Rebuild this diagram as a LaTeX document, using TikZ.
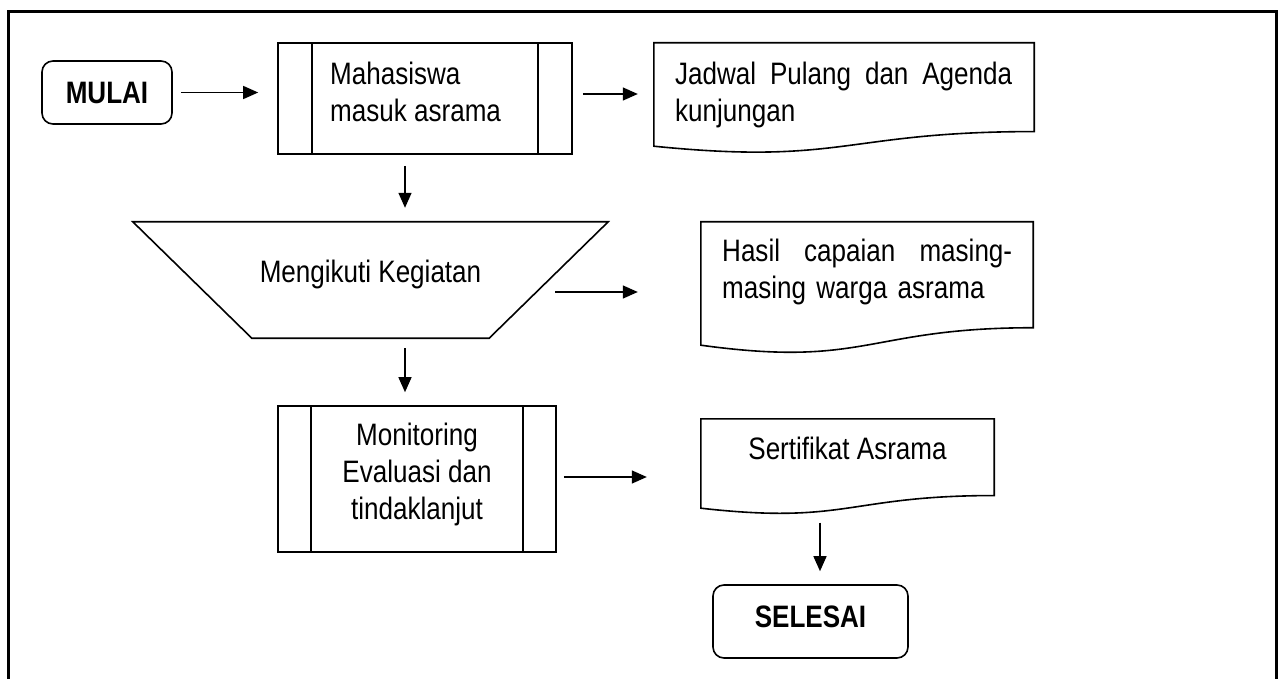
\documentclass[tikz,border=0pt]{standalone}
\usepackage{fontspec}
\setmainfont{Liberation Sans}[FakeStretch=0.84]
\usetikzlibrary{arrows.meta,calc}

\tikzset{
  shapeline/.style={draw, line width=1.6pt},
  procbox/.style={draw, line width=1.6pt, inner sep=0pt},
  ghostbox/.style={inner sep=0pt},
  termbox/.style={draw, line width=1.6pt, rounded corners=11pt, inner sep=0pt,
    font=\fontsize{31pt}{37pt}\selectfont\bfseries},
  lbl/.style={font=\fontsize{31pt}{37pt}\selectfont, inner sep=0pt},
  arr/.style={line width=1.4pt, -{Triangle[length=15pt,width=13pt]}},
  framebox/.style={line width=3pt},
}

% document symbol with a wavy bottom edge, drawn on an empty node
\newcommand\docpath[1]{%
  \draw[shapeline] (#1.north west) -- (#1.north east)
    -- ($(#1.north east)!0.802!(#1.south east)$)
    .. controls ($(#1.north)!0.802!(#1.south)$) and ($(#1.north)!1.108!(#1.south)$)
    .. ($(#1.north west)!0.934!(#1.south west)$) -- cycle;}

\begin{document}
\begin{tikzpicture}[x=1pt,y=-1pt]
\useasboundingbox (0,0) rectangle (1278,679);

% outer frame
\draw[framebox] (8,690) -- (8,12) -- (1276,12) -- (1276,690);

% start
\node[termbox, minimum width=130pt, minimum height=63pt] (mulai) at (107,92.5) {MULAI};

% predefined process: Mahasiswa masuk asrama
\node[procbox, minimum width=294pt, minimum height=111pt] (mhs) at (425,98.5) {};
\draw[shapeline] ([xshift=35pt]mhs.north west) -- ([xshift=35pt]mhs.south west);
\draw[shapeline] ([xshift=-35pt]mhs.north east) -- ([xshift=-35pt]mhs.south east);
\node[lbl, align=left, anchor=base west] (mhsT) at (330,122) {Mahasiswa\\masuk asrama};

% document: Jadwal
\node[ghostbox, minimum width=380pt, minimum height=110.3pt] (jadwal) at (844,98.15) {};
\docpath{jadwal}
\node[lbl, text width=337pt, align=left, anchor=base west] (jadwalT) at (675,85)
  {\makebox[337pt][l]{Jadwal\hfill Pulang\hfill dan\hfill Agenda}\\kunjungan};

% manual operation: Mengikuti Kegiatan
\node[ghostbox, minimum width=475pt, minimum height=116pt] (trap) at (370.5,280) {};
\draw[shapeline] (trap.north west) -- (trap.north east)
  -- ([xshift=-119pt]trap.south east) -- ([xshift=119pt]trap.south west) -- cycle;
\node[lbl, anchor=base] (trapT) at (370.5,283) {Mengikuti Kegiatan};

% document: Hasil capaian
\node[ghostbox, minimum width=332pt, minimum height=131.7pt] (hasil) at (867,287.85) {};
\docpath{hasil}
\node[lbl, text width=290pt, align=left, anchor=base west] (hasilT) at (722,262)
  {\makebox[290pt][l]{Hasil\hfill capaian\hfill masing-}\\masing warga asrama};

% predefined process: Monitoring
\node[procbox, minimum width=278pt, minimum height=146pt] (mon) at (417,479) {};
\draw[shapeline] ([xshift=34pt]mon.north west) -- ([xshift=34pt]mon.south west);
\draw[shapeline] ([xshift=-34pt]mon.north east) -- ([xshift=-34pt]mon.south east);
\node[lbl, align=center, anchor=base] (monT) at (417,519) {Monitoring\\Evaluasi dan\\tindaklanjut};

% document: Sertifikat
\node[ghostbox, minimum width=293pt, minimum height=95.3pt] (sert) at (847.5,466.65) {};
\docpath{sert}
\node[lbl, anchor=base] (sertT) at (847.5,459) {Sertifikat Asrama};

% end
\node[termbox, minimum width=195pt, minimum height=73pt, text depth=9pt] (selesai) at (810.5,621.5) {SELESAI};

% connectors
\coordinate (kegout) at (555,292);
\draw[arr, shorten <=8pt, shorten >=19pt] (mulai.east) -- (mulai.east -| mhs.west);
\draw[arr, shorten <=10pt, shorten >=16pt] ([yshift=4.5pt]mhs.east) -- ([yshift=4.5pt]mhs.east -| jadwal.west);
\draw[arr, shorten <=11pt, shorten >=14pt] ([xshift=-20pt]mhs.south) -- ([xshift=-20pt]mhs.south |- trap.north);
\draw[arr, shorten >=63pt] (kegout) -- (kegout -| hasil.west);
\draw[arr, shorten <=10pt, shorten >=13pt] ([xshift=34.5pt]trap.south) -- ([xshift=34.5pt]trap.south |- mon.north);
\draw[arr, shorten <=7pt, shorten >=54pt] ([yshift=2pt]mon.east) -- ([yshift=2pt]mon.east -| sert.west);
\draw[arr, shorten <=8pt, shorten >=13pt] ([xshift=-27.5pt]sert.south) -- ([xshift=-27.5pt]sert.south |- selesai.north);
\end{tikzpicture}
\end{document}
